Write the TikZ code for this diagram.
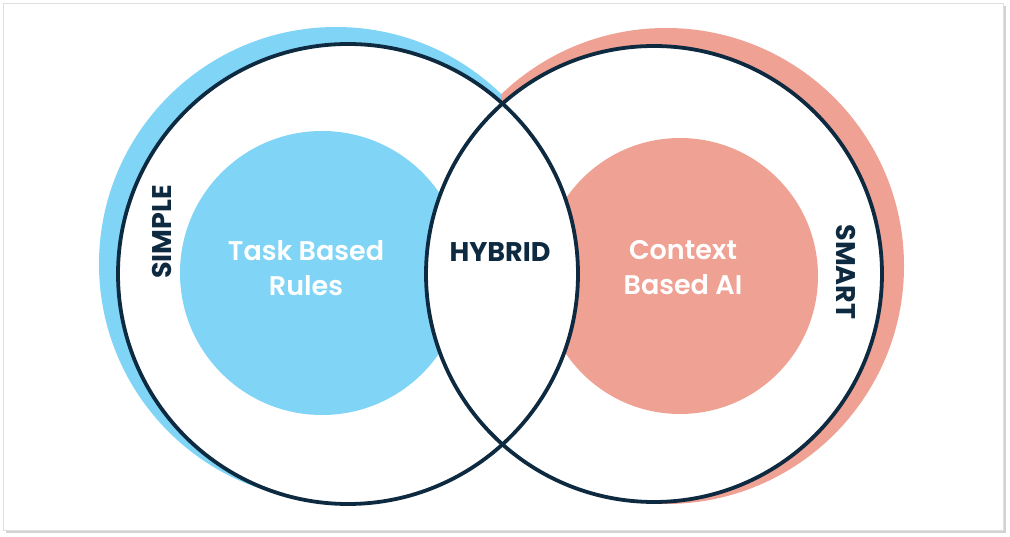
\documentclass[tikz,border=0pt]{standalone}
\usepackage{fontspec}
\setmainfont{Poppins}
\newfontfamily\popsb{Poppins SemiBold}
\newfontfamily\popb{Poppins Bold}
\definecolor{skyb}{HTML}{80D4F6}
\definecolor{salmon}{HTML}{EFA194}
\definecolor{navy}{HTML}{0E2A40}
\begin{document}
\begin{tikzpicture}[x=1pt,y=-1pt,
  outline/.style={draw=navy,line width=3.8pt},
  lbl/.style={font=\popsb\fontsize{27}{35}\selectfont,align=center},
  blbl/.style={font=\popb\fontsize{27}{35}\selectfont,align=center}]
\useasboundingbox (0,0) rectangle (1010,537);
\fill[gray!35] (6,6) rectangle (1006,533);
\fill[white,draw=gray!25] (3,3) rectangle (1003,530);
\begin{scope}
\clip (0,0) rectangle (501,537);
\fill[skyb] (336,264) circle (237);
\end{scope}
\begin{scope}
\clip (501,0) rectangle (1010,537);
\fill[salmon] (666,266) circle (238);
\end{scope}
\fill[white] (348,274) circle (230) (654,274) circle (228);
\fill[skyb] (322,273) circle (142);
\fill[salmon] (680,276) circle (138);
\begin{scope}
\clip (348,274) circle (230);
\fill[white] (654,274) circle (228);
\end{scope}
\node[outline,circle,minimum size=460pt,inner sep=0] (L) at (348,274) {};
\node[outline,circle,minimum size=456pt,inner sep=0] (R) at (654,274) {};
\node[lbl,text=white] (t1) at (306,268) {Task Based\\Rules};
\node[lbl,text=white] (t2) at (683,268) {Context\\Based AI};
\node[blbl,text=navy] (h) at (500,252) {HYBRID};
\node[blbl,text=navy,rotate=90] (s) at (162,232) {SIMPLE};
\node[blbl,text=navy,rotate=-90] (m) at (846,272) {SMART};
\end{tikzpicture}
\end{document}
